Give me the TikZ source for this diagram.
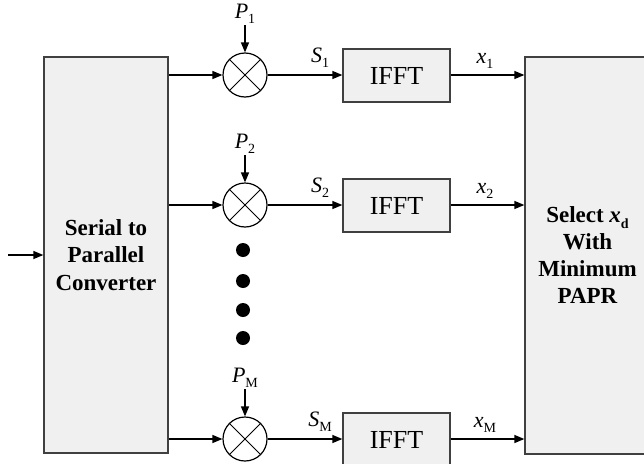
\documentclass[tikz,border=0pt]{standalone}
\usepackage{fontspec}
\setmainfont{Liberation Serif}
\usetikzlibrary{arrows.meta}
\newcommand\lbl[2]{\textit{#1}\raisebox{-0.22em}{\fontsize{14}{14}\selectfont #2}}
\begin{document}
\begin{tikzpicture}[x=1pt,y=-1pt,
  blk/.style={draw=black!75,fill=black!6,line width=1.3pt,inner sep=0pt},
  mult/.style={draw=black,line width=1.2pt,circle,minimum size=44pt,inner sep=0pt,
    path picture={\draw[line width=1pt] (path picture bounding box.north west) -- (path picture bounding box.south east)
      (path picture bounding box.north east) -- (path picture bounding box.south west);}},
  arr/.style={line width=1.3pt,-{Triangle[length=10pt,width=8pt]}},
  lab/.style={font=\fontsize{22}{22}\selectfont,inner sep=0pt},
  dotn/.style={circle,fill=black,minimum size=14pt,inner sep=0pt}]
\useasboundingbox (0,0) rectangle (644,463);
\node[blk,minimum width=124pt,minimum height=396pt,align=center,
  font=\fontsize{23}{27.5}\selectfont\bfseries] (sp) at (106,255) {Serial to\\Parallel\\Converter};
\node[blk,minimum width=125pt,minimum height=397pt,align=center,
  font=\fontsize{23}{27}\selectfont\bfseries] (sel) at (587.5,255.5)
  {Select \textit{x}\raisebox{-0.22em}{\fontsize{14}{14}\selectfont d}\\With\\Minimum\\PAPR};
\coordinate (in) at (8,255);
\draw[arr] (in) -- (in -| sp.west);
\foreach \i/\y/\s in {1/75/1,2/205/2,M/439/M}{
  \node[mult] (m\i) at (245,\y) {};
  \coordinate (p\i) at (245,\y-50);
  \node[lab] (pl\i) at (245,\y-61) {\lbl{P}{\s}};
  \draw[arr] (p\i) -- (m\i.north);
  \draw[arr] (m\i -| sp.east) -- (m\i.west);
  \node[blk,minimum width=107pt,minimum height=53pt,font=\fontsize{26}{26}\selectfont] (f\i) at (396.5,\y+0.5) {IFFT};
  \draw[arr] (m\i.east) -- (m\i.east -| f\i.west);
  \node[lab] (sl\i) at (320,\y-17) {\lbl{S}{\s}};
  \draw[arr] (m\i -| f\i.east) -- (m\i -| sel.west);
  \node[lab] (xl\i) at (485,\y-14) {\lbl{x}{\s}};
}
\foreach \k/\y in {1/250,2/281,3/310,4/338}{
  \node[dotn] (d\k) at (243,\y) {};
}
\end{tikzpicture}
\end{document}
